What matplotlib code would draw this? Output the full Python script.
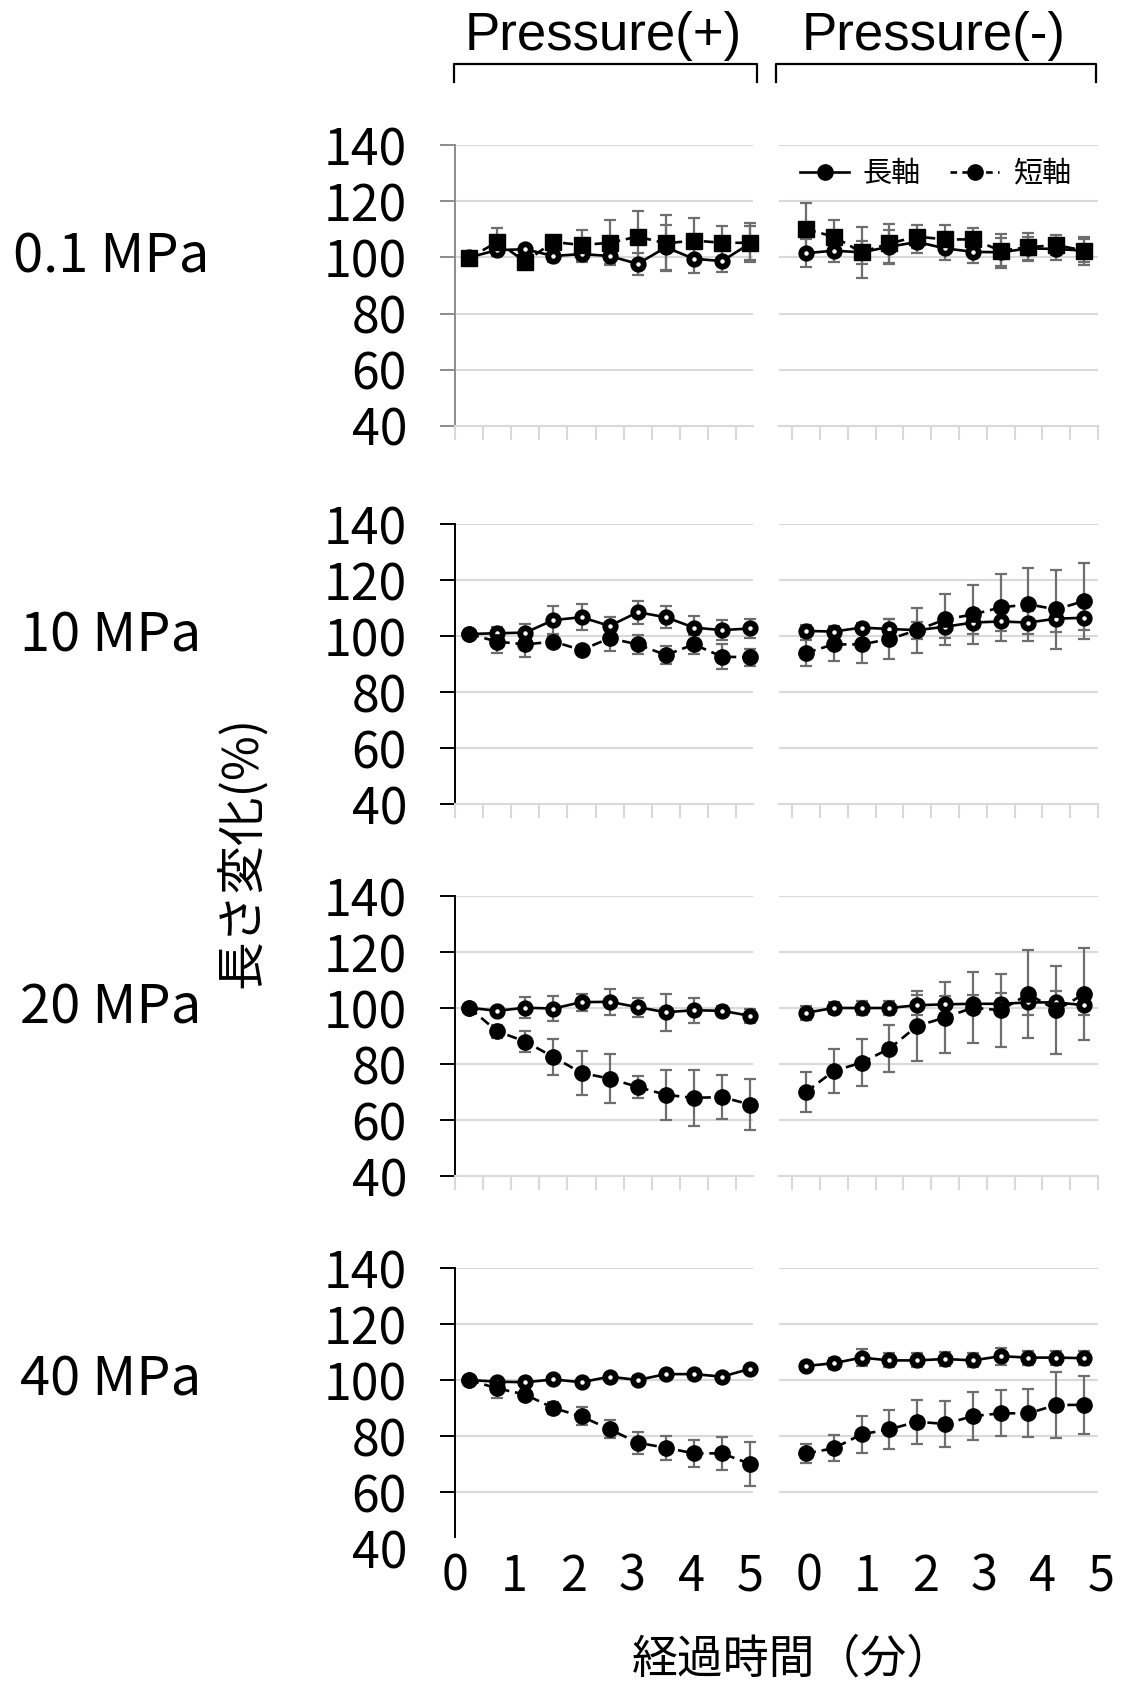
import matplotlib
matplotlib.use("Agg")
import matplotlib.pyplot as plt
from matplotlib.lines import Line2D
from matplotlib.transforms import blended_transform_factory

plt.rcParams['font.family'] = ['Noto Sans CJK JP', 'DejaVu Sans']

# ---- data (length change in %, 11 time points 30 s apart) ----
pressures = ["0.1 MPa", "10 MPa", "20 MPa", "40 MPa"]
panel_titles = ["Pressure(+)", "Pressure(-)"]
series_names = ["長軸", "短軸"]
x_idx = [0, 1, 2, 3, 4, 5, 6, 7, 8, 9, 10]
time_labels = ["0", "1", "2", "3", "4", "5"]
y_ticks = [40, 60, 80, 100, 120, 140]

long_01_pos = [100, 102.6, 102.9, 100.5, 101.2, 100.5, 97.7, 103.6, 99.5, 98.7, 105]
long_01_pos_err = [0, 2, 1.5, 2, 3, 3, 4, 8, 5, 4, 6]
short_01_pos = [99.7, 105.5, 98.5, 105.5, 104.4, 105.2, 107.4, 105, 106, 105.2, 105.2]
short_01_pos_err = [0, 5, 2.5, 1.5, 5.4, 8, 9, 10, 8, 6, 7]

long_01_neg = [101.5, 102.4, 101.8, 103.8, 105.5, 103.2, 102, 101.8, 103.2, 103, 102.4]
long_01_neg_err = [5, 4, 4, 6, 4, 4, 4, 5, 4, 4, 4]
short_01_neg = [110, 107.4, 101.8, 105, 107.4, 106.4, 106.4, 102.4, 103.6, 104.4, 102.4]
short_01_neg_err = [9.5, 6, 9, 7, 4, 5, 4, 6, 5, 3.5, 5]

long_10_pos = [100.7, 101, 101.2, 105.7, 106.7, 103.6, 108.5, 106.7, 103, 102.1, 102.7]
long_10_pos_err = [0, 2.3, 3, 5, 4.7, 3.3, 4.1, 4, 4.3, 3.6, 3.3]
short_10_pos = [100.7, 98, 97, 98, 95, 99.2, 97, 93.2, 97, 92.6, 92.4]
short_10_pos_err = [0, 4, 4.4, 2, 1.5, 4.4, 3.4, 3.2, 3.4, 4.4, 3.1]

long_10_neg = [101.8, 101.6, 103, 102.5, 102.1, 103.3, 104.8, 105.2, 104.8, 106.2, 106.5]
long_10_neg_err = [2, 2, 1.5, 3.5, 3, 4, 4, 3.5, 4, 4.6, 4.5]
short_10_neg = [94, 97, 97, 98.9, 102.1, 105.9, 107.7, 110.2, 111.3, 109.5, 112.5]
short_10_neg_err = [4.6, 6, 6.8, 7.2, 8, 9.1, 10.5, 12, 13, 14, 13.7]

long_20_pos = [100.1, 99, 100.1, 99.8, 102.1, 102.2, 100.3, 98.5, 99.2, 99.0, 97.2]
long_20_pos_err = [0, 1.5, 3.8, 4.6, 3, 4.7, 3.4, 6.6, 4.5, 1.8, 2.4]
short_20_pos = [100.1, 91.7, 88, 82.5, 76.8, 74.8, 71.8, 69, 67.9, 68.2, 65.5]
short_20_pos_err = [0, 2.3, 3.8, 6.3, 7.7, 8.7, 3.9, 9, 10, 8, 9]

long_20_neg = [98.3, 100, 100, 100, 101, 101.3, 101.5, 101.5, 102, 102, 101]
long_20_neg_err = [2.5, 2, 2.5, 2.5, 3.6, 3, 3, 4, 4.6, 4, 3.5]
short_20_neg = [70, 77.5, 80.5, 85.5, 93.6, 96.6, 100.1, 99.2, 105, 99.2, 105]
short_20_neg_err = [7.2, 8, 8.3, 8.5, 12.5, 12.8, 12.6, 13, 15.6, 15.7, 16.5]

long_40_pos = [100, 99.4, 99.2, 100.2, 99.2, 101.2, 100, 102.1, 102.1, 101.2, 104]
long_40_pos_err = [0, 1, 1, 1.2, 1, 1, 1.5, 1, 1, 1, 1]
short_40_pos = [100, 97, 94.8, 90, 87, 82.4, 77.6, 75.8, 73.8, 73.8, 70]
short_40_pos_err = [0, 3.5, 1.8, 2.2, 3.2, 3.2, 4, 4.2, 4.9, 5.8, 7.8]

long_40_neg = [105, 106, 108, 107, 107, 107.5, 107, 108.5, 108, 108, 107.8]
long_40_neg_err = [1.5, 2, 3, 2.5, 2.5, 2.5, 2.5, 3, 2.5, 2.5, 2.5]
short_40_neg = [73.8, 75.6, 80.6, 82.4, 85.1, 84.3, 87.1, 88.1, 88.1, 91.1, 91.1]
short_40_neg_err = [3.5, 4.6, 6.5, 6.9, 7.9, 8.1, 8.6, 8.2, 8.6, 11.9, 10.3]

panels = [
    [(long_01_pos, long_01_pos_err, short_01_pos, short_01_pos_err),
     (long_01_neg, long_01_neg_err, short_01_neg, short_01_neg_err)],
    [(long_10_pos, long_10_pos_err, short_10_pos, short_10_pos_err),
     (long_10_neg, long_10_neg_err, short_10_neg, short_10_neg_err)],
    [(long_20_pos, long_20_pos_err, short_20_pos, short_20_pos_err),
     (long_20_neg, long_20_neg_err, short_20_neg, short_20_neg_err)],
    [(long_40_pos, long_40_pos_err, short_40_pos, short_40_pos_err),
     (long_40_neg, long_40_neg_err, short_40_neg, short_40_neg_err)],
]

# ---- layout (pixels of the 1121x1685 canvas) ----
W, H = 1121, 1685
row_px = [(145, 426), (524, 804), (896, 1176), (1268, 1548)]
col_px = [(455, 753), (779, 1098)]
col_xlim = [(-0.5, 10.1), (-0.97, 10.5)]
col_label_pos = [[-0.5, 1.6, 3.7, 5.8, 7.9, 10.0], [0.1, 2.2, 4.3, 6.4, 8.5, 10.6]]

GRID = '#d9d9d9'
ERR = '#6e6e6e'


def box(l, t, r, b):
    return [l / W, 1 - b / H, (r - l) / W, (b - t) / H]


fig = plt.figure(figsize=(W / 100, H / 100), dpi=100)

for r, (top, bot) in enumerate(row_px):
    last_row = r == len(row_px) - 1
    for c, (left, right) in enumerate(col_px):
        ax = fig.add_axes(box(left, top, right, bot))
        ax.set_xlim(*col_xlim[c])
        ax.set_ylim(40, 140)
        ax.patch.set_alpha(0)

        # horizontal gridlines
        for yv in y_ticks[1:]:
            ax.axhline(yv, color=GRID, lw=1.5, zorder=1)

        for s in ['top', 'right']:
            ax.spines[s].set_visible(False)

        # bottom axis: light grey with category boundary ticks
        if last_row:
            ax.spines['bottom'].set_visible(False)
            ax.set_xticks([])
        else:
            ax.spines['bottom'].set_color(GRID)
            ax.spines['bottom'].set_linewidth(1.5)
            if c == 0:
                ax.set_xticks([-0.5, 0.5, 1.5, 2.5, 3.5, 4.5, 5.5, 6.5, 7.5, 8.5, 9.5])
            else:
                ax.set_xticks([-0.5, 0.5, 1.5, 2.5, 3.5, 4.5, 5.5, 6.5, 7.5, 8.5, 9.5, 10.5])
            ax.tick_params(axis='x', direction='out', length=10, width=1.5,
                           color=GRID, labelbottom=False)

        # y axis
        ax.set_yticks(y_ticks)
        if c == 0:
            acol = '#8c8c8c' if r == 0 else 'black'
            ax.spines['left'].set_color(acol)
            ax.spines['left'].set_linewidth(1.4)
            ax.tick_params(axis='y', direction='out', length=10.5, width=1.4,
                           color=acol, pad=24, labelsize=36)
            if last_row:
                ax.spines['left'].set_bounds(44, 140)
                ax.yaxis.get_major_ticks()[0].tick1line.set_visible(False)
            ax.text(-1.155, 100, pressures[r], fontsize=39, ha='center', va='center',
                    transform=blended_transform_factory(ax.transAxes, ax.transData))
        else:
            ax.spines['left'].set_visible(False)
            ax.tick_params(axis='y', length=0, labelleft=False)

        ly, lerr, sy, serr = panels[r][c]
        ax.errorbar(x_idx, ly, yerr=lerr, fmt='none', ecolor=ERR, elinewidth=1.6,
                    capsize=4.5, capthick=1.6, zorder=3, clip_on=False)
        ax.errorbar(x_idx, sy, yerr=serr, fmt='none', ecolor=ERR, elinewidth=1.6,
                    capsize=4.5, capthick=1.6, zorder=3, clip_on=False)
        ax.plot(x_idx, ly, color='black', lw=1.9, marker='o', ms=7.5, mfc='white',
                mec='black', mew=4.2, zorder=4, clip_on=False)
        smark = 's' if r == 0 else 'o'
        ax.plot(x_idx, sy, color='black', lw=1.9, ls=(0, (3.8, 2.2)), marker=smark,
                ms=11, mfc='black', mec='black', zorder=5, clip_on=False)

        if last_row:
            tr = blended_transform_factory(ax.transData, ax.transAxes)
            for xp, lab in zip(col_label_pos[c], time_labels):
                ax.text(xp, -29 / 281, lab, fontsize=35, ha='center', va='center',
                        transform=tr, clip_on=False)

        if r == 0 and c == 1:
            handles = [
                Line2D([], [], color='black', lw=1.9, marker='o', ms=11),
                Line2D([], [], color='black', lw=1.9, ls=(0, (2.5, 2)), marker='o', ms=11),
            ]
            ax.legend(handles, series_names, loc='center', bbox_to_anchor=(0.49, 0.897),
                      ncol=2, frameon=False, fontsize=21, handlelength=1.7,
                      handletextpad=0.45, columnspacing=1.0)

# headers and brackets
for (left, right), title in zip([(454, 757), (776, 1096)], panel_titles):
    fig.text((left + right) / 2 / W - 0.002, 1 - 36 / H, title, fontsize=38,
             family='Liberation Sans', ha='center', va='center')
    fig.add_artist(Line2D([left / W, left / W, right / W, right / W],
                          [1 - 82 / H, 1 - 64 / H, 1 - 64 / H, 1 - 82 / H],
                          color='black', lw=1.6))

fig.text(243 / W, 1 - 852 / H, "長さ変化(%)", fontsize=35, rotation=90,
         ha='center', va='center')
fig.text(792 / W, 1 - 1659 / H, "経過時間（分）", fontsize=33, ha='center', va='center')

fig.savefig("out.png", dpi=100)
